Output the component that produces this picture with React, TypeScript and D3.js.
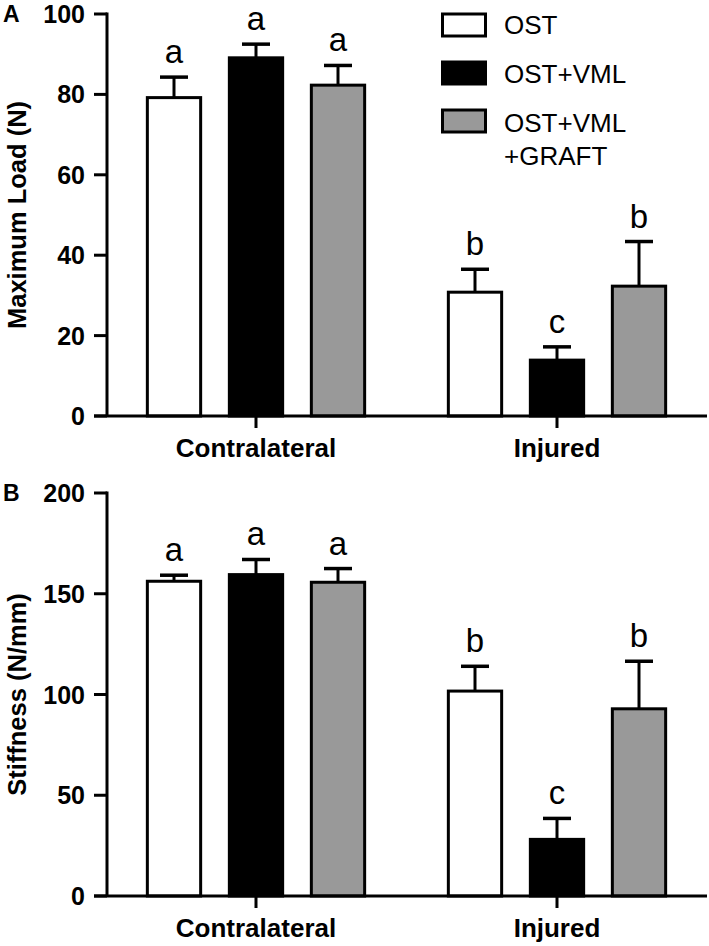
import React from "react";
import * as d3 from "d3";

const groups = ["Contralateral", "Injured"];
const series = ["OST", "OST+VML", "OST+VML+GRAFT"];
const legendLabels = [["OST"], ["OST+VML"], ["OST+VML", "+GRAFT"]];
const fills = ["#ffffff", "#000000", "#999999"];

const loadMean = [[79.2, 89.1, 82.3], [30.8, 13.9, 32.3]];
const loadErr = [[5.1, 3.4, 4.9], [5.7, 3.3, 11.1]];
const loadLetters = [["a", "a", "a"], ["b", "c", "b"]];
const loadTicks = [0, 20, 40, 60, 80, 100];

const stiffMean = [[156.2, 159.5, 155.7], [101.7, 28.1, 92.9]];
const stiffErr = [[3.0, 7.5, 6.8], [12.3, 10.4, 23.6]];
const stiffLetters = [["a", "a", "a"], ["b", "c", "b"]];
const stiffTicks = [0, 50, 100, 150, 200];

const FONT = "'Liberation Sans', Arial, Helvetica, sans-serif";

const xOuter = d3.scaleBand<string>().domain(groups).range([105.5, 707.5]).padding(0);
const xInner = d3
  .scaleBand<string>()
  .domain(series)
  .range([-123, 123])
  .paddingInner(0.35)
  .paddingOuter(0.175);

type PanelProps = {
  label: string;
  title: string;
  y: d3.ScaleLinear<number, number>;
  ticks: number[];
  means: number[][];
  errs: number[][];
  letters: string[][];
};

function Panel({ label, title, y, ticks, means, errs, letters }: PanelProps) {
  const [y0, y1] = y.range();
  const axisX = 107;
  const top = y1;
  const bottom = y0;
  return (
    <g>
      <text x={3} y={top + 8} fontFamily={FONT} fontWeight="bold" fontSize={23}>
        {label}
      </text>
      {/* bars */}
      {groups.map((g, gi) =>
        series.map((s, si) => {
          const cx = xOuter(g)! + xOuter.bandwidth() / 2 + xInner(s)! + xInner.bandwidth() / 2;
          const bw = xInner.bandwidth();
          const v = means[gi][si];
          const e = errs[gi][si];
          const yt = y(v);
          const ye = y(v + e);
          return (
            <g key={g + s}>
              <line x1={cx} x2={cx} y1={yt} y2={ye} stroke="#000" strokeWidth={3} />
              <line x1={cx - 14} x2={cx + 14} y1={ye} y2={ye} stroke="#000" strokeWidth={3.5} />
              <rect
                x={cx - bw / 2}
                y={yt}
                width={bw}
                height={y(0) - yt}
                fill={fills[si]}
                stroke="#000"
                strokeWidth={3}
              />
              <text
                x={cx}
                y={ye - 14}
                textAnchor="middle"
                fontFamily={FONT}
                fontSize={33}
              >
                {letters[gi][si]}
              </text>
            </g>
          );
        })
      )}
      {/* y axis */}
      <line x1={axisX} x2={axisX} y1={top - 1.5} y2={bottom} stroke="#000" strokeWidth={3} />
      {ticks.map((t) => (
        <g key={t}>
          <line x1={94} x2={axisX} y1={y(t)} y2={y(t)} stroke="#000" strokeWidth={3} />
          <text
            x={85}
            y={y(t)}
            dy="0.36em"
            textAnchor="end"
            fontFamily={FONT}
            fontWeight="bold"
            fontSize={25}
          >
            {t}
          </text>
        </g>
      ))}
      {/* x axis */}
      <line x1={94} x2={707} y1={bottom} y2={bottom} stroke="#000" strokeWidth={3} />
      {groups.map((g) => {
        const cx = xOuter(g)! + xOuter.bandwidth() / 2;
        return (
          <g key={g}>
            <line x1={cx} x2={cx} y1={bottom} y2={bottom + 12} stroke="#000" strokeWidth={3} />
            <text
              x={cx}
              y={bottom + 41}
              textAnchor="middle"
              fontFamily={FONT}
              fontWeight="bold"
              fontSize={26}
            >
              {g}
            </text>
          </g>
        );
      })}
      <text
        transform={`translate(26,${(top + bottom) / 2}) rotate(-90)`}
        textAnchor="middle"
        fontFamily={FONT}
        fontWeight="bold"
        fontSize={25.5}
      >
        {title}
      </text>
    </g>
  );
}

export default function App() {
  const yLoad = d3.scaleLinear().domain([0, 100]).range([416, 14]);
  const yStiff = d3.scaleLinear().domain([0, 200]).range([896, 493]);
  return (
    <div style={{ position: "absolute", left: 0, top: 0 }}>
      <svg width={709} height={946} style={{ display: "block", background: "#fff" }}>
        <rect width={709} height={946} fill="#fff" />
        <Panel
          label="A"
          title="Maximum Load (N)"
          y={yLoad}
          ticks={loadTicks}
          means={loadMean}
          errs={loadErr}
          letters={loadLetters}
        />
        <Panel
          label="B"
          title="Stiffness (N/mm)"
          y={yStiff}
          ticks={stiffTicks}
          means={stiffMean}
          errs={stiffErr}
          letters={stiffLetters}
        />
        {/* legend */}
        {series.map((s, i) => (
          <g key={s}>
            <rect
              x={442.5}
              y={14 + i * 48}
              width={43}
              height={22}
              fill={fills[i]}
              stroke="#000"
              strokeWidth={3}
            />
            {legendLabels[i].map((ln, li) => (
              <text
                key={li}
                x={504}
                y={34 + i * 49 + li * 33}
                fontFamily={FONT}
                fontSize={26}
              >
                {ln}
              </text>
            ))}
          </g>
        ))}
      </svg>
    </div>
  );
}
